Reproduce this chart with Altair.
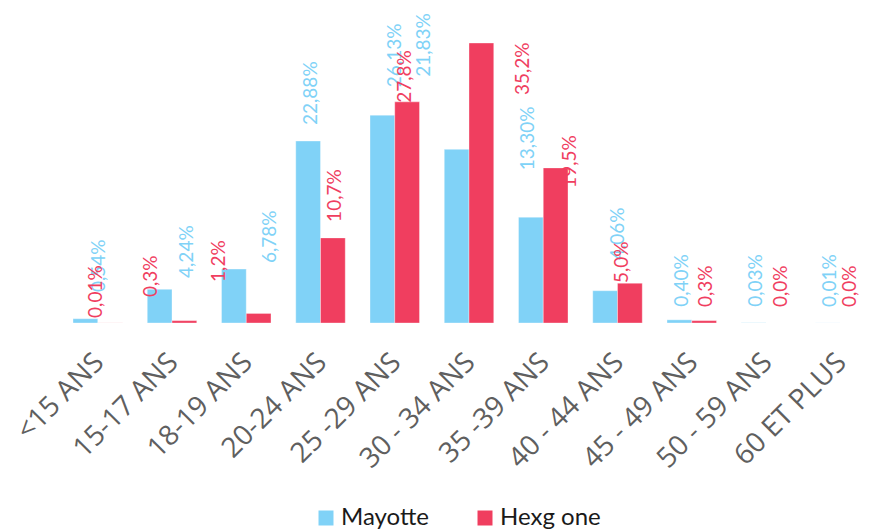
import altair as alt
import pandas as pd

# ---- data ----
ages = ["<15 ANS", "15-17 ANS", "18-19 ANS", "20-24 ANS", "25 -29 ANS",
        "30 - 34 ANS", "35 -39 ANS", "40 - 44 ANS", "45 - 49 ANS",
        "50 - 59 ANS", "60 ET PLUS"]
series_names = ["Mayotte", "Hexg one"]
mayotte = [0.54, 4.24, 6.78, 22.88, 26.13, 21.83, 13.30, 4.06, 0.40, 0.03, 0.01]
hexagone = [0.01, 0.3, 1.2, 10.7, 27.8, 35.2, 19.5, 5.0, 0.3, 0.0, 0.0]
mayotte_text = ["0,54%", "4,24%", "6,78%", "22,88%", "26,13%", "21,83%",
                "13,30%", "4,06%", "0,40%", "0,03%", "0,01%"]
hexagone_text = ["0,01%", "0,3%", "1,2%", "10,7%", "27,8%", "35,2%",
                 "19,5%", "5,0%", "0,3%", "0,0%", "0,0%"]

# manual label nudges (pixels, as dragged in the original): horizontal, vertical(up)
may_nudge_x = [13.5, 27.5, 36.5, 2.5, 12.5, -32.5, -2.5, 12.5, 2.5, 2.5, 2.5]
may_nudge_y = [10.7, -4.7, -10, 0, 12, 56.5, 31, 14.7, -3, 0, 0]
hex_nudge_x = [-14.5, -33.5, -39.5, 2.5, -2.5, 41.5, 14.5, -7.5, 1.5, 2.5, -2.5]
hex_nudge_y = [-11, 7.6, 15.5, 0, -17, -68, -36, -15.8, -2.4, 0, 0]

# ---- layout ----
W, H = 792, 315
Y_MAX = 39.6
N = len(ages)
P_INNER = 1 / 3
STEP = W / (N - P_INNER)
px_per_pct = H / Y_MAX
LABEL_GAP = 16

blue = "#80D2F7"
red = "#F03E5F"

rows = []
for si, (name, vals, texts, nx, ny) in enumerate([
        (series_names[0], mayotte, mayotte_text, may_nudge_x, may_nudge_y),
        (series_names[1], hexagone, hexagone_text, hex_nudge_x, hex_nudge_y)]):
    side = -1 / 6 if si == 0 else 1 / 6
    for i, (a, v, t) in enumerate(zip(ages, vals, texts)):
        rows.append({
            "age": a, "serie": name, "value": v, "label": t,
            "lx": i + side + nx[i] / STEP,
            "ly": v + (LABEL_GAP + ny[i]) / px_per_pct,
        })
df = pd.DataFrame(rows)

color_scale = alt.Scale(domain=series_names, range=[blue, red])
y_scale = alt.Scale(domain=[0, Y_MAX], nice=False, zero=True)

bars = alt.Chart(df).mark_bar(stroke="white", strokeOpacity=0.35, strokeWidth=1).encode(
    x=alt.X("age:N", sort=ages, title=None,
            scale=alt.Scale(paddingInner=P_INNER, paddingOuter=0),
            axis=alt.Axis(labelAngle=-45, labelAlign="right", labelBaseline="top",
                          labelPadding=25, labelOffset=-8, labelFont="Open Sans",
                          labelFontSize=28, labelColor="#5f5f5f", domain=False,
                          ticks=False, grid=False, labelOverlap=False, labelLimit=0)),
    xOffset=alt.XOffset("serie:N", sort=series_names,
                        scale=alt.Scale(paddingInner=0, paddingOuter=0)),
    y=alt.Y("value:Q", scale=y_scale, axis=None),
    color=alt.Color("serie:N", scale=color_scale, sort=series_names,
                    legend=alt.Legend(title=None, orient="none", direction="horizontal",
                                      legendX=241, legendY=498, symbolType="square",
                                      symbolSize=225, symbolStrokeWidth=0,
                                      labelFont="Lato", labelFontSize=24,
                                      labelColor="#1a1a1a", labelOffset=3,
                                      columnPadding=44)),
)

labels = alt.Chart(df).mark_text(angle=270, align="left", baseline="middle",
                                 font="Lato", fontSize=19).encode(
    x=alt.X("lx:Q", scale=alt.Scale(domain=[-(1 - P_INNER) / 2, N - P_INNER - (1 - P_INNER) / 2],
                                    nice=False, zero=False), axis=None),
    y=alt.Y("ly:Q", scale=y_scale, axis=None),
    text="label:N",
    color=alt.Color("serie:N", scale=color_scale, sort=series_names, legend=None),
)

chart = alt.layer(bars, labels).resolve_scale(x="independent").properties(
    width=W, height=H,
    autosize=alt.AutoSizeParams(type="none"),
    padding={"left": 65, "top": 0, "right": -4, "bottom": 207},
).configure(background="white").configure_view(stroke=None, strokeWidth=0)

chart.save("out.html", embed_options={"renderer": "svg", "actions": False})
